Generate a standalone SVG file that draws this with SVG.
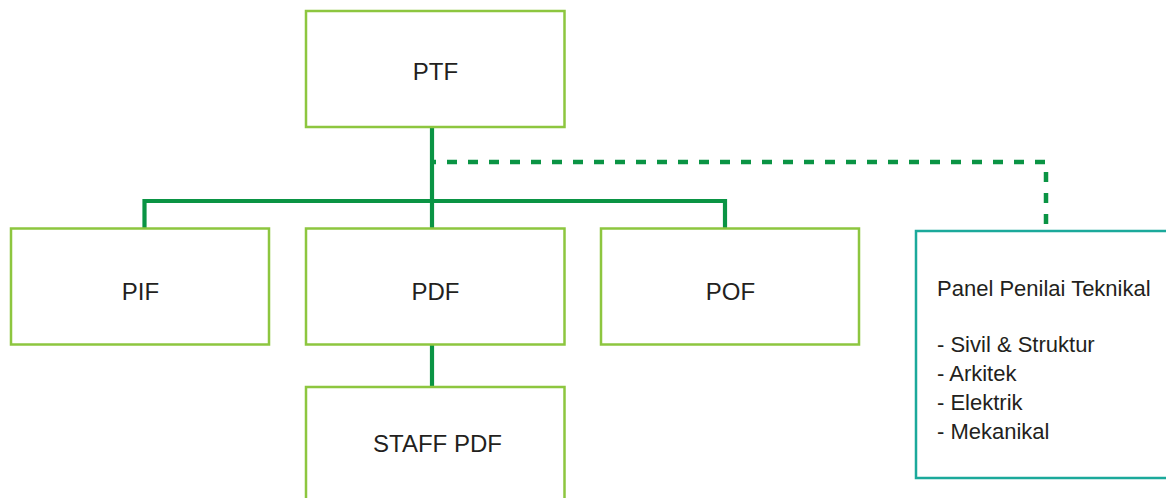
<svg xmlns="http://www.w3.org/2000/svg" width="1166" height="498" viewBox="0 0 1166 498">
  <style>
    .box { fill: #ffffff; stroke: #8dc63f; stroke-width: 2.5; }
    .panel { fill: #ffffff; stroke: #1ba99b; stroke-width: 2.5; }
    .label { font-family: "Liberation Sans", Arial, sans-serif; font-size: 24px; fill: #231f20; text-anchor: middle; }
    .note { font-family: "Liberation Sans", Arial, sans-serif; font-size: 22px; fill: #231f20; }
    .link { fill: none; stroke: #0a9444; stroke-width: 4.2; }
    .dash { fill: none; stroke: #0a9444; stroke-width: 4.5; stroke-dasharray: 10 11; stroke-dashoffset: 8; }
  </style>

  <!-- connectors -->
  <g id="connectors">
    <path class="link" d="M432 127 V228"/>
    <path class="link" d="M144.5 228 V201 H725 V228"/>
    <path class="link" d="M432 344.5 V387"/>
    <path class="dash" d="M434 162 H1046 V224"/>
  </g>

  <!-- top node -->
  <g id="ptf">
    <rect class="box" x="306" y="11" width="258.5" height="116"/>
    <text class="label" x="435.5" y="80">PTF</text>
  </g>

  <!-- second level -->
  <g id="pif">
    <rect class="box" x="11" y="228.5" width="258" height="116"/>
    <text class="label" x="140.5" y="300">PIF</text>
  </g>
  <g id="pdf">
    <rect class="box" x="306" y="228.5" width="258.5" height="116"/>
    <text class="label" x="435.5" y="300">PDF</text>
  </g>
  <g id="pof">
    <rect class="box" x="601" y="228.5" width="258" height="116"/>
    <text class="label" x="730.5" y="300">POF</text>
  </g>

  <!-- staff under PDF -->
  <g id="staff-pdf">
    <rect class="box" x="306" y="387" width="258.5" height="130"/>
    <text class="label" x="437.5" y="452">STAFF PDF</text>
  </g>

  <!-- technical panel -->
  <g id="panel">
    <rect class="panel" x="916" y="231" width="270" height="247"/>
    <text class="note" x="937" y="296">Panel Penilai Teknikal</text>
    <text class="note" x="937" y="352">- Sivil &amp; Struktur</text>
    <text class="note" x="937" y="381">- Arkitek</text>
    <text class="note" x="937" y="410">- Elektrik</text>
    <text class="note" x="937" y="439">- Mekanikal</text>
  </g>
</svg>
